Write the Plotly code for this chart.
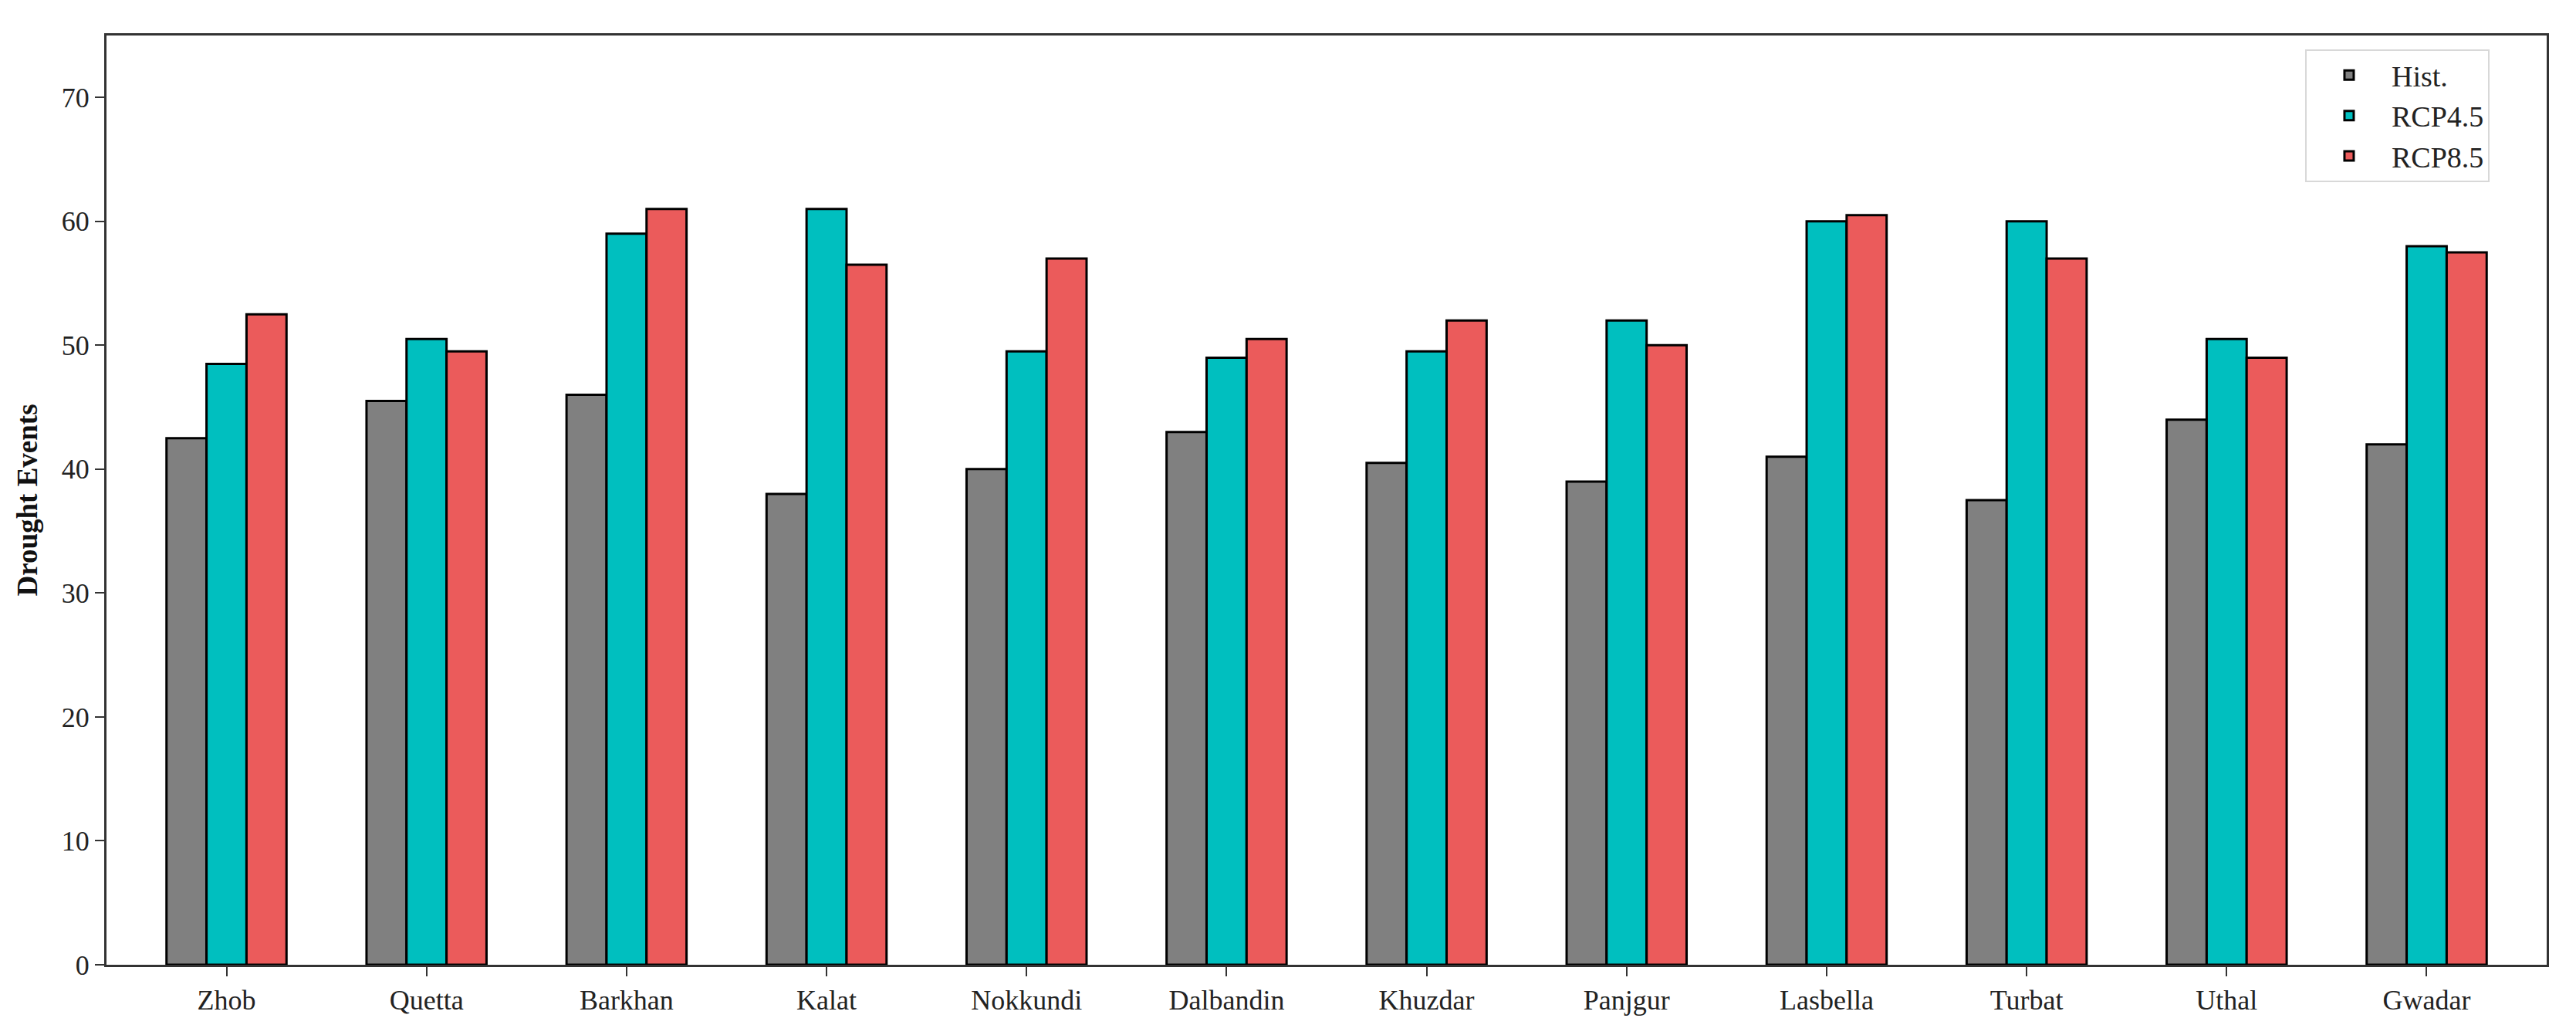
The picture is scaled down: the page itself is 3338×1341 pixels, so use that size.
import plotly.graph_objects as go

stations = ["Zhob", "Quetta", "Barkhan", "Kalat", "Nokkundi", "Dalbandin",
            "Khuzdar", "Panjgur", "Lasbella", "Turbat", "Uthal", "Gwadar"]
hist = [42.5, 45.5, 46, 38, 40, 43, 40.5, 39, 41, 37.5, 44, 42]
rcp45 = [48.5, 50.5, 59, 61, 49.5, 49, 49.5, 52, 60, 60, 50.5, 58]
rcp85 = [52.5, 49.5, 61, 56.5, 57, 50.5, 52, 50, 60.5, 57, 49, 57.5]
series_names = ["Hist.", "RCP4.5", "RCP8.5"]
series_colors = ["#808080", "#00BFBF", "#EB5B5B"]
y_ticks = [0, 10, 20, 30, 40, 50, 60, 70]

FONT = "Liberation Serif, Times New Roman, serif"

fig = go.Figure()
for name, vals, col in zip(series_names, [hist, rcp45, rcp85], series_colors):
    fig.add_trace(go.Bar(
        x=list(range(len(stations))), y=vals, name=name,
        marker=dict(color=col, line=dict(color="black", width=3)),
    ))

fig.update_layout(
    width=3338, height=1341,
    margin=dict(l=138, r=38, t=46, b=91, autoexpand=False),
    paper_bgcolor="white", plot_bgcolor="white",
    barmode="group", bargap=0.4, bargroupgap=0,
    font=dict(family=FONT, size=36, color="#222"),
    legend=dict(
        x=0.901, y=0.985, xanchor="left", yanchor="top",
        bgcolor="white", bordercolor="#d8d8d8", borderwidth=2,
        font=dict(family=FONT, size=38, color="#222"),
        itemwidth=100,
    ),
    xaxis=dict(
        range=[-0.6, 11.6],
        tickmode="array", tickvals=list(range(len(stations))), ticktext=stations,
        ticks="outside", ticklen=12, tickwidth=2, tickcolor="#333",
        showline=True, linecolor="#333", linewidth=3, mirror=True,
        showgrid=False, zeroline=False, automargin=False,
        tickfont=dict(family=FONT, size=36, color="#222"),
    ),
    yaxis=dict(
        range=[0, 75],
        tickmode="array", tickvals=y_ticks,
        ticks="outside", ticklen=12, tickwidth=2, tickcolor="#333",
        showline=True, linecolor="#333", linewidth=3, mirror=True,
        showgrid=False, zeroline=False, automargin=False,
        tickfont=dict(family=FONT, size=36, color="#222"),
        title=dict(text="<b>Drought Events</b>", font=dict(family=FONT, size=37, color="#111"),
                   standoff=20),
    ),
)

fig.write_html("out.html", config={"displayModeBar": False},
               post_script="document.body.style.margin='0';")
